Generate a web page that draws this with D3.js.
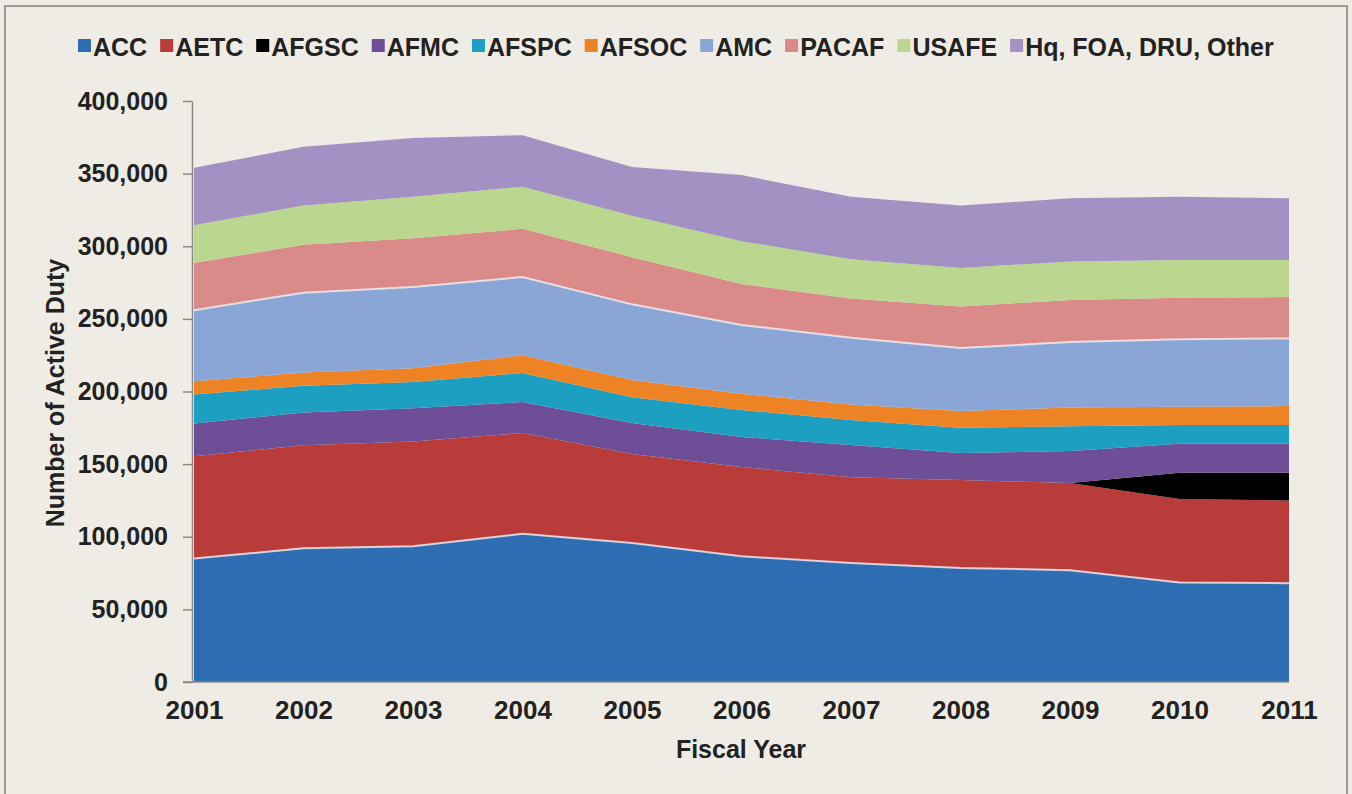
<!DOCTYPE html>
<html>
<head>
<meta charset="utf-8">
<script src="https://cdn.jsdelivr.net/npm/d3@7"></script>
<style>
  html, body { margin: 0; padding: 0; background: #efece5; }
  svg { display: block; font-family: "Liberation Sans", Arial, sans-serif; }
</style>
</head>
<body>
<svg id="chart" width="1352" height="794"></svg>
<script>
// fiscal years and commands (stack order, bottom to top)
const years = [2001, 2002, 2003, 2004, 2005, 2006, 2007, 2008, 2009, 2010, 2011];
const commands = ["ACC", "AETC", "AFGSC", "AFMC", "AFSPC", "AFSOC", "AMC", "PACAF", "USAFE", "Hq, FOA, DRU, Other"];

// active duty per command
const acc   = [85000, 92000, 93500, 102000, 95700, 86500, 82000, 78500, 77000, 68500, 68000];
const aetc  = [70500, 71000, 72000, 69500, 61300, 61500, 59000, 60500, 60000, 57500, 57000];
const afgsc = [0, 0, 0, 0, 0, 0, 0, 0, 0, 18000, 19000];
const afmc  = [22500, 22500, 23000, 21300, 21300, 20700, 22200, 18700, 22000, 20000, 20000];
const afspc = [20000, 18500, 18000, 19900, 17700, 18600, 17200, 17300, 17000, 13000, 13000];
const afsoc = [9000, 9000, 9500, 12300, 12000, 11200, 10600, 11500, 13000, 12500, 13000];
const amc   = [49000, 55000, 56000, 53800, 52000, 47300, 46000, 43400, 45000, 46500, 46500];
const pacaf = [32500, 33000, 33500, 33200, 32500, 28200, 27000, 28600, 29000, 28500, 28500];
const usafe = [26000, 27000, 28500, 29000, 28500, 29500, 27000, 26500, 26500, 26000, 25500];
const hq    = [39500, 40500, 40500, 35500, 33500, 45500, 43000, 43000, 43500, 43500, 42500];

const yTicks = [0, 50000, 100000, 150000, 200000, 250000, 300000, 350000, 400000];

const palette = ["#2f6db2", "#b93c3b", "#000000", "#6f4e98", "#1d9fc2", "#ee8325",
                 "#89a6d6", "#d98a89", "#bad68f", "#a291c2"];

const series = [acc, aetc, afgsc, afmc, afspc, afsoc, amc, pacaf, usafe, hq];
const table = years.map((year, i) => {
    const row = {year};
    commands.forEach((c, j) => row[c] = series[j][i]);
    return row;
});

const width = 1352, height = 794;
const svg = d3.select("#chart");

// outer frame
svg.append("rect")
    .attr("x", 5).attr("y", 6)
    .attr("width", 1342).attr("height", 820)
    .attr("fill", "#efece5")
    .attr("stroke", "#9a9a9a")
    .attr("stroke-width", 2);

const x = d3.scaleLinear().domain([2001, 2011]).range([194, 1289]);
const y = d3.scaleLinear().domain([0, 400000]).range([682, 101]);
const color = d3.scaleOrdinal(commands, palette);

const stacked = d3.stack().keys(commands)(table);

const area = d3.area()
    .x(d => x(d.data.year))
    .y0(d => y(d[0]))
    .y1(d => y(d[1]));

svg.append("g")
    .selectAll("path")
    .data(stacked)
    .join("path")
    .attr("fill", d => color(d.key))
    .attr("d", area);

// light edge on top of ACC and AMC, as in the original
const topLine = d3.line()
    .x(d => x(d.data.year))
    .y(d => y(d[1]));

svg.append("g")
    .selectAll("path")
    .data(stacked.filter(s => s.key === "ACC" || s.key === "AMC"))
    .join("path")
    .attr("fill", "none")
    .attr("stroke", "#f4eef0")
    .attr("stroke-opacity", 0.8)
    .attr("stroke-width", 2)
    .attr("d", topLine);

// y axis
const yAxis = svg.append("g")
    .attr("transform", "translate(192,0)")
    .call(d3.axisLeft(y)
        .tickValues(yTicks)
        .tickSize(9)
        .tickSizeOuter(0)
        .tickPadding(15)
        .tickFormat(d3.format(",")));
yAxis.select(".domain").attr("stroke", "#8a8a8a").attr("stroke-width", 1.5);
yAxis.selectAll(".tick line").attr("stroke", "#8a8a8a").attr("stroke-width", 1.5);
yAxis.selectAll("text")
    .attr("fill", "#222")
    .style("font-size", "25px")
    .style("font-weight", "bold");

// x axis
const xAxis = svg.append("g")
    .attr("transform", "translate(0,682)")
    .call(d3.axisBottom(x)
        .tickValues(years)
        .tickSize(0)
        .tickSizeOuter(0)
        .tickFormat(d3.format("d")));
xAxis.select(".domain").attr("stroke", "#8a8a8a").attr("stroke-width", 1.5)
    .attr("d", "M183,0H1289");
xAxis.selectAll("text")
    .attr("y", 37)
    .attr("dy", 0)
    .attr("fill", "#222")
    .style("font-size", "26px")
    .style("font-weight", "bold");

// axis titles
svg.append("text")
    .attr("x", 741).attr("y", 758)
    .attr("text-anchor", "middle")
    .attr("fill", "#222")
    .style("font-size", "25px")
    .style("font-weight", "bold")
    .text("Fiscal Year");

svg.append("text")
    .attr("transform", "translate(64,393) rotate(-90)")
    .attr("text-anchor", "middle")
    .attr("fill", "#222")
    .style("font-size", "25px")
    .style("font-weight", "bold")
    .text("Number of Active Duty");

// legend, laid out left to right
const legend = svg.append("g");
let lx = 78;
commands.forEach(c => {
    legend.append("rect")
        .attr("x", lx).attr("y", 39)
        .attr("width", 13).attr("height", 13)
        .attr("fill", color(c));
    const t = legend.append("text")
        .attr("x", lx + 15).attr("y", 56)
        .attr("fill", "#222")
        .style("font-size", "25px")
        .style("font-weight", "bold")
        .text(c);
    lx += 15 + t.node().getComputedTextLength() + 13;
});
</script>
</body>
</html>
